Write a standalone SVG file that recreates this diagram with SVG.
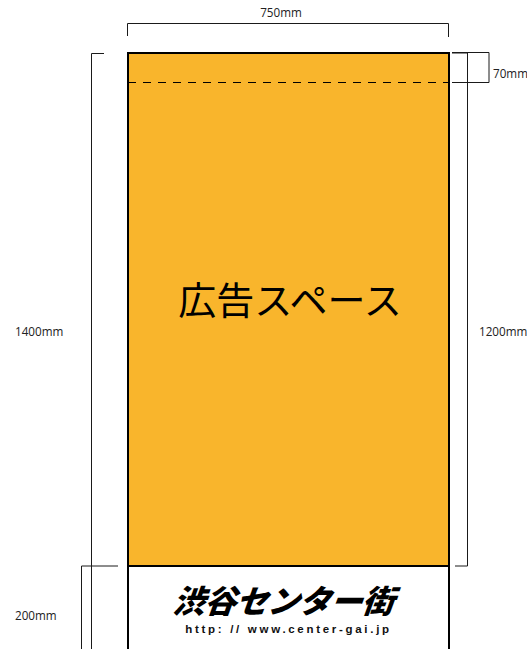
<svg xmlns="http://www.w3.org/2000/svg" width="527" height="649" viewBox="0 0 527 649">
<style>
.dim{fill:none;stroke:#1a1a1a;stroke-width:1}
.lbl{font-family:"Open Sans","Noto Sans",sans-serif;font-size:11.7px;fill:#222}
.cjk{font-family:"Noto Sans CJK JP",sans-serif}
</style>
<rect width="527" height="649" fill="#fff"/>
<g id="panel">
<rect x="128" y="53" width="321" height="513" fill="#f9b52c"/>
<path d="M128 649V53H449V649M128 566H449" fill="none" stroke="#000" stroke-width="2"/>
<path d="M128 82.500H449" fill="none" stroke="#000" stroke-width="1" stroke-dasharray="8 7"/>
<text x="290" y="314" text-anchor="middle" class="cjk" font-size="38" fill="#000">広告スペース</text>
</g>
<g id="logo">
<text transform="translate(172 613) skewX(-20)" class="cjk" font-size="32" font-weight="900" letter-spacing="-0.5" fill="#000">渋谷センター街</text>
<text x="288.500" y="633" text-anchor="middle" font-family="Liberation Sans,sans-serif" font-size="11.5" font-weight="700" letter-spacing="2.7" fill="#111">http: // www.center-gai.jp</text>
</g>
<g id="connectors">
<path class="dim" d="M127.5 36V23.5H448.500V37"/>
<path class="dim" d="M104 53.500H91.500V649"/>
<path class="dim" d="M118 566H81.500V649"/>
<path class="dim" d="M452 53H467.500V566H455"/>
<path class="dim" d="M452 52.500H489V82.500H452"/>
</g>
<g id="labels">
<text class="lbl" x="281" y="17" text-anchor="middle">750mm</text>
<text class="lbl" x="493" y="78">70mm</text>
<text class="lbl" x="15" y="336">1400mm</text>
<text class="lbl" x="479" y="336">1200mm</text>
<text class="lbl" x="15" y="620">200mm</text>
</g>
</svg>
